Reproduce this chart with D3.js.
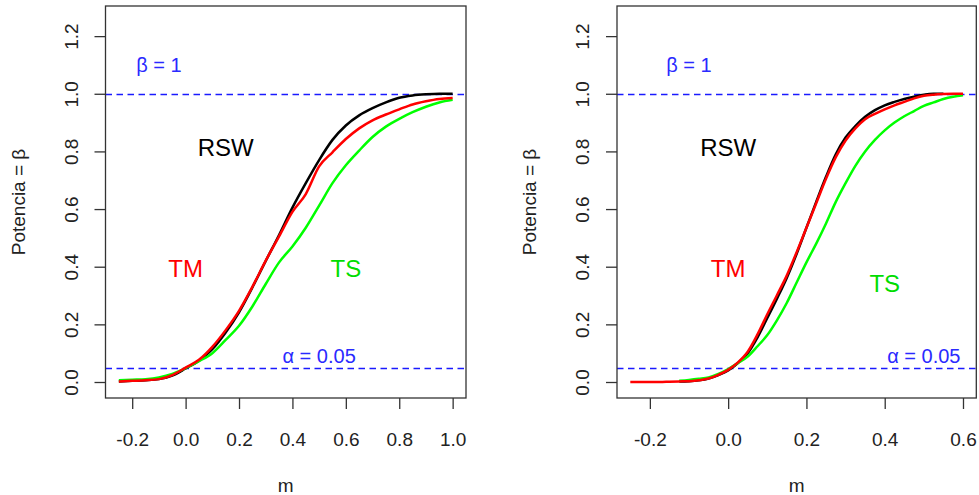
<!DOCTYPE html>
<html>
<head>
<meta charset="utf-8">
<script src="https://cdn.jsdelivr.net/npm/d3@7"></script>
<style>
body{margin:0;background:#fff}
svg text{font-family:"Liberation Sans",Arial,sans-serif}
</style>
</head>
<body>
<script>
// --- data ---
// left panel
const mLeft = [-0.25,-0.2,-0.15,-0.1,-0.05,0,0.05,0.1,0.15,0.2,0.25,0.3,0.35,0.4,0.45,0.5,0.55,0.6,0.65,0.7,0.75,0.8,0.85,0.9,0.95,1.0];
const rswLeft = [0.002,0.004,0.006,0.010,0.022,0.047,0.074,0.114,0.172,0.242,0.328,0.42,0.51,0.605,0.69,0.77,0.84,0.89,0.925,0.95,0.97,0.986,0.994,0.998,1.0,1.0];
const tmLeft = [0.002,0.004,0.006,0.010,0.024,0.05,0.077,0.122,0.18,0.247,0.33,0.421,0.505,0.59,0.652,0.748,0.797,0.843,0.88,0.908,0.928,0.946,0.963,0.974,0.982,0.985];
const tsLeft = [0.006,0.008,0.010,0.016,0.028,0.048,0.072,0.1,0.146,0.195,0.262,0.34,0.415,0.47,0.535,0.612,0.69,0.752,0.803,0.85,0.886,0.913,0.936,0.955,0.97,0.979];

// right panel (null = curve not drawn there)
const mRight = [-0.25,-0.225,-0.2,-0.175,-0.15,-0.125,-0.1,-0.075,-0.05,-0.025,0,0.025,0.05,0.075,0.1,0.125,0.15,0.175,0.2,0.225,0.25,0.275,0.3,0.325,0.35,0.375,0.4,0.425,0.45,0.475,0.5,0.525,0.55,0.575,0.6];
const rswRight = [null,null,null,null,null,0.002,0.003,0.006,0.012,0.024,0.04,0.066,0.1,0.155,0.222,0.29,0.362,0.445,0.535,0.625,0.712,0.79,0.848,0.888,0.92,0.943,0.96,0.972,0.982,0.99,0.997,1.0,1.0,null,null];
const tmRight = [0,0,0,0,0.001,0.002,0.003,0.006,0.012,0.025,0.042,0.068,0.105,0.165,0.235,0.302,0.37,0.45,0.535,0.62,0.705,0.78,0.838,0.88,0.912,0.93,0.946,0.96,0.972,0.984,0.993,0.997,0.999,1.0,1.0];
const tsRight = [null,null,null,null,null,0.004,0.007,0.011,0.016,0.028,0.045,0.066,0.088,0.124,0.163,0.215,0.275,0.345,0.415,0.48,0.55,0.625,0.69,0.75,0.8,0.84,0.873,0.9,0.922,0.94,0.958,0.97,0.982,0.99,0.995];

const yTicks = [0,0.2,0.4,0.6,0.8,1.0,1.2];
const xTicksLeft = [-0.2,0,0.2,0.4,0.6,0.8,1.0];
const xTicksRight = [-0.2,0,0.2,0.4,0.6];

const alphaLevel = 0.05;
const betaLevel = 1;

// --- drawing ---
const W = 979, H = 495;
const svg = d3.select('body').append('svg')
    .attr('width', W)
    .attr('height', H);

const plotTop = 6, plotBottom = 398;
const y = d3.scaleLinear().domain([-0.0555, 1.3045]).range([plotBottom, plotTop]);
// R prints a plain hyphen for negatives
const fmt = v => d3.format('.1f')(v).replace('−', '-');

function drawPanel(p) {
    const x = d3.scaleLinear().domain(p.xDomain).range(p.xRange);
    const g = svg.append('g');

    // reference lines (snapped so they stay crisp blue)
    [betaLevel, alphaLevel].forEach(v => {
        const yy = Math.round(y(v)) + 0.5;
        g.append('line')
            .attr('x1', p.xRange[0]).attr('x2', p.xRange[1])
            .attr('y1', yy).attr('y2', yy)
            .attr('stroke', '#1a1aff')
            .attr('stroke-width', 1.3)
            .attr('stroke-dasharray', '6.5,4.5');
    });

    // curves: black, green, red (red on top)
    const line = d3.line()
        .defined(d => d[1] !== null)
        .curve(d3.curveMonotoneX)
        .x(d => x(d[0]))
        .y(d => y(d[1]));
    p.series.forEach(s => {
        g.append('path')
            .datum(p.m.map((m, i) => [m, s.values[i]]))
            .attr('fill', 'none')
            .attr('stroke', s.color)
            .attr('stroke-width', 2.5)
            .attr('stroke-linejoin', 'round')
            .attr('d', line);
    });

    // box
    g.append('rect')
        .attr('x', p.xRange[0]).attr('y', plotTop)
        .attr('width', p.xRange[1] - p.xRange[0])
        .attr('height', plotBottom - plotTop)
        .attr('fill', 'none')
        .attr('stroke', '#333')
        .attr('stroke-width', 1.3);

    // x axis
    const xAxis = g.append('g')
        .attr('transform', `translate(0,${plotBottom})`)
        .call(d3.axisBottom(x).tickValues(p.xTicks).tickFormat(fmt).tickSize(11).tickPadding(24));
    xAxis.select('.domain').remove();
    xAxis.selectAll('.tick line').attr('stroke', '#333').attr('stroke-width', 1.3);
    xAxis.selectAll('.tick text')
        .attr('font-size', 19).attr('fill', '#222')
        .attr('font-family', '"Liberation Sans",Arial,sans-serif');

    // y axis, labels rotated like R
    const yAxis = g.append('g')
        .attr('transform', `translate(${p.xRange[0]},0)`)
        .call(d3.axisLeft(y).tickValues(yTicks).tickFormat(fmt).tickSize(11));
    yAxis.select('.domain').remove();
    yAxis.selectAll('.tick line').attr('stroke', '#333').attr('stroke-width', 1.3);
    yAxis.selectAll('.tick text')
        .attr('font-size', 19).attr('fill', '#222')
        .attr('font-family', '"Liberation Sans",Arial,sans-serif')
        .attr('x', null).attr('dy', null)
        .attr('text-anchor', 'middle')
        .attr('transform', 'translate(-28,0) rotate(-90)');

    // axis titles
    const cx = (p.xRange[0] + p.xRange[1]) / 2;
    g.append('text')
        .attr('x', cx).attr('y', 492)
        .attr('text-anchor', 'middle')
        .attr('font-size', 19).attr('fill', '#222')
        .text('m');
    g.append('text')
        .attr('transform', `translate(${p.xRange[0] - 81},${(plotTop + plotBottom) / 2}) rotate(-90)`)
        .attr('text-anchor', 'middle')
        .attr('font-size', 19).attr('fill', '#222')
        .text('Potencia = β');

    // in-plot labels
    p.labels.forEach(l => {
        g.append('text')
            .attr('x', x(l.m))
            .attr('y', y(l.v) + l.size * 0.36)
            .attr('text-anchor', 'middle')
            .attr('font-size', l.size)
            .attr('fill', l.color)
            .text(l.text);
    });
}

drawPanel({
    xDomain: [-0.3, 1.05],
    xRange: [105.5, 466],
    xTicks: xTicksLeft,
    m: mLeft,
    series: [
        {values: rswLeft, color: '#000000'},
        {values: tsLeft, color: '#00ff00'},
        {values: tmLeft, color: '#ff0000'}
    ],
    labels: [
        {text: 'β = 1', m: -0.1, v: 1.1, color: '#2a2aff', size: 20},
        {text: 'RSW', m: 0.15, v: 0.813, color: '#000', size: 24},
        {text: 'TM', m: 0.0, v: 0.393, color: '#ff0000', size: 24},
        {text: 'TS', m: 0.6, v: 0.393, color: '#00dd00', size: 24},
        {text: 'α = 0.05', m: 0.5, v: 0.09, color: '#2a2aff', size: 20}
    ]
});

drawPanel({
    xDomain: [-0.284, 0.634],
    xRange: [617, 976.3],
    xTicks: xTicksRight,
    m: mRight,
    series: [
        {values: rswRight, color: '#000000'},
        {values: tsRight, color: '#00ff00'},
        {values: tmRight, color: '#ff0000'}
    ],
    labels: [
        {text: 'β = 1', m: -0.1, v: 1.1, color: '#2a2aff', size: 20},
        {text: 'RSW', m: 0.0, v: 0.813, color: '#000', size: 24},
        {text: 'TM', m: 0.0, v: 0.393, color: '#ff0000', size: 24},
        {text: 'TS', m: 0.4, v: 0.343, color: '#00dd00', size: 24},
        {text: 'α = 0.05', m: 0.5, v: 0.09, color: '#2a2aff', size: 20}
    ]
});
</script>
</body>
</html>
